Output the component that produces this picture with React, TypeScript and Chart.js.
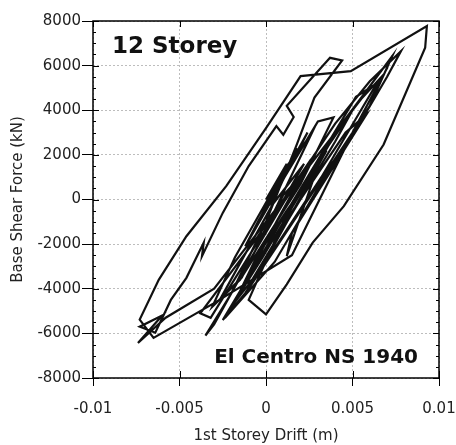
import React, { useEffect, useRef } from "react";
import { Chart, registerables } from "chart.js";

Chart.register(...registerables);

// 1st storey drift (m)
const drift = [
  0, 0.0012, 0.0003, 0.0018, -0.0006, 0.0024, 0.0008, -0.0012, -0.0004, 0.003,
  0.0039, 0.002, -0.0015, -0.0031, -0.0018, 0.0012, 0.0026, 0.0005, -0.003, -0.0058,
  -0.0074, -0.006, -0.0073, -0.0064, -0.0055, -0.0046, -0.0036, -0.0037, -0.0025, -0.001,
  0.0006, 0.001, 0.0016, 0.0012, 0.0037, 0.0044, 0.0028, 0.0018, 0.0, -0.002,
  -0.0035, -0.003, -0.001, 0.0015, 0.004, 0.006, 0.0078, 0.007, 0.0045, 0.0015,
  -0.0029, -0.0065, -0.0073, -0.0062, -0.0046, -0.0023, 0.0, 0.002, 0.0049,
  0.0093, 0.0092, 0.0068, 0.0045, 0.0027, 0.0012, 0.0, -0.001, 0.001, 0.004,
  0.0073, 0.006, 0.003, 0.0005, -0.0021, -0.0005, 0.0025, 0.0055, 0.0068, 0.005,
  0.002, -0.001, 0.0005, 0.0035, 0.002, -0.0005, 0.0012, 0.003, 0.0012, 0.0015,
  0.0058, 0.0046, -0.0008, -0.0025, -0.0012, 0.0032, 0.0064, 0.0052, 0.001, -0.0018,
  -0.0008, 0.004, 0.005, 0.0036, -0.0002, -0.0015, 0.0006, 0.0026, 0.0012, -0.0006,
  -0.0038, -0.0032, 0.0008, 0.0022, 0.0004, -0.0026, -0.0014, 0.001, 0.0022, 0.0006,
];

// Base shear force (kN)
const force = [
  0, 1600, -300, 2300, -1200, 3000, 600, -2100, -900, 3500,
  3680, 700, -3600, -4800, -2600, 1500, 2900, -500, -4000, -5300,
  -6430, -5200, -5700, -5970, -4500, -3510, -1930, -2540, -600, 1500,
  3290, 2900, 3700, 4200, 6350, 6230, 4570, 2500, -1000, -4200,
  -6100, -5600, -2800, 500, 3400, 5300, 6650, 5500, 2200, -2500,
  -4600, -6200, -5380, -3600, -1645, 600, 3200, 5530, 5750,
  7770, 6800, 2465, -300, -1930, -3800, -5150, -4500, -1000, 3000,
  6430, 4200, 500, -2800, -5070, -2500, 1500, 4500, 5600, 3000,
  -500, -4000, -2000, 2200, 300, -2500, -500, 1500, -2540, -1500,
  3800, 3000, -3200, -5400, -4200, 1000, 5200, 4600, -800, -4600,
  -3600, 2600, 4000, 2400, -2600, -4200, -1000, 1800, 200, -1800,
  -5100, -5300, -300, 1600, -200, -4400, -3500, 200, 1200, -600,
];

const xTicks = [-0.01, -0.005, 0, 0.005, 0.01];
const yTicks = [-8000, -6000, -4000, -2000, 0, 2000, 4000, 6000, 8000];

const xTitle = "1st Storey Drift (m)";
const yTitle = "Base Shear Force (kN)";
const label1 = "12 Storey";
const label2 = "El Centro NS 1940";

const FONT = "'DejaVu Sans', sans-serif";

const framePlugin = {
  id: "frame",
  afterDraw(chart: any) {
    const { ctx, chartArea } = chart;
    const { left, right, top, bottom } = chartArea;
    const xs = chart.scales.x;
    const ys = chart.scales.y;
    ctx.save();
    ctx.strokeStyle = "#000";
    ctx.lineWidth = 1.5;
    ctx.strokeRect(left, top, right - left, bottom - top);
    ctx.lineWidth = 1;
    for (let v = -8000; v <= 8000; v += 500) {
      const py = Math.round(ys.getPixelForValue(v)) + 0.5;
      const major = v % 2000 === 0;
      const len = major ? 6 : 3;
      ctx.beginPath();
      ctx.moveTo(left, py);
      ctx.lineTo(left + len, py);
      ctx.moveTo(right, py);
      ctx.lineTo(right - len, py);
      ctx.stroke();
    }
    for (const v of xTicks) {
      const px = Math.round(xs.getPixelForValue(v)) + 0.5;
      ctx.beginPath();
      ctx.moveTo(px, bottom);
      ctx.lineTo(px, bottom - 7);
      ctx.moveTo(px, top);
      ctx.lineTo(px, top + 6);
      ctx.stroke();
    }
    ctx.fillStyle = "#111";
    ctx.textBaseline = "alphabetic";
    ctx.textAlign = "left";
    ctx.font = "bold 23px " + FONT;
    ctx.fillText(label1, 112, 53);
    ctx.font = "bold 20px " + FONT;
    ctx.textAlign = "right";
    ctx.fillText(label2, 418, 363);
    ctx.restore();
  },
};

export default function App() {
  const ref = useRef<HTMLCanvasElement | null>(null);
  useEffect(() => {
    document.body.style.margin = "0";
    const canvas = ref.current;
    if (!canvas) return;
    const points = drift.map((d, i) => ({ x: d, y: force[i] }));
    const chart = new Chart(canvas, {
      type: "scatter",
      data: {
        datasets: [
          {
            data: points,
            showLine: true,
            borderColor: "#111",
            borderWidth: 2.2,
            pointRadius: 0,
            tension: 0,
            fill: false,
          },
        ],
      },
      options: {
        responsive: false,
        animation: false,
        devicePixelRatio: 1,
        layout: { padding: { top: 21, right: 17, left: 0, bottom: 0 } },
        plugins: { legend: { display: false }, tooltip: { enabled: false } },
        scales: {
          x: {
            type: "linear",
            min: -0.01,
            max: 0.01,
            afterBuildTicks: (s: any) => {
              s.ticks = xTicks.map((v) => ({ value: v }));
            },
            afterFit: (s: any) => {
              s.height = 445 - 378;
              s.paddingLeft = 0;
              s.paddingRight = 0;
            },
            ticks: {
              color: "#222",
              font: { family: FONT, size: 15 },
              padding: 14,
              maxRotation: 0,
              callback: (v: any) => String(Math.round(Number(v) * 1000) / 1000),
            },
            grid: {
              color: "#bdbdbd",
              lineWidth: 1,
              tickColor: "#000",
              tickLength: 8,
              tickWidth: 1,
            },
            border: { display: false, dash: [2, 2] },
            title: {
              display: true,
              text: xTitle,
              color: "#222",
              font: { family: FONT, size: 15 },
              padding: { top: 0, bottom: 0 },
            },
          },
          y: {
            type: "linear",
            min: -8000,
            max: 8000,
            afterBuildTicks: (s: any) => {
              s.ticks = yTicks.map((v) => ({ value: v }));
            },
            afterFit: (s: any) => {
              s.width = 93;
              s.paddingTop = 0;
              s.paddingBottom = 0;
            },
            ticks: {
              color: "#222",
              font: { family: FONT, size: 15 },
              padding: 1,
              callback: (v: any) => String(v),
            },
            grid: {
              color: "#bdbdbd",
              lineWidth: 1,
              tickColor: "#000",
              tickLength: 11,
              tickWidth: 1,
            },
            border: { display: false, dash: [2, 2] },
            title: {
              display: true,
              text: yTitle,
              color: "#222",
              font: { family: FONT, size: 15 },
              padding: { top: 9, bottom: 0 },
            },
          },
        },
      },
      plugins: [framePlugin],
    });
    return () => chart.destroy();
  }, []);
  return (
    <div style={{ width: 456, height: 445 }}>
      <canvas ref={ref} width={456} height={445} style={{ display: "block" }} />
    </div>
  );
}
